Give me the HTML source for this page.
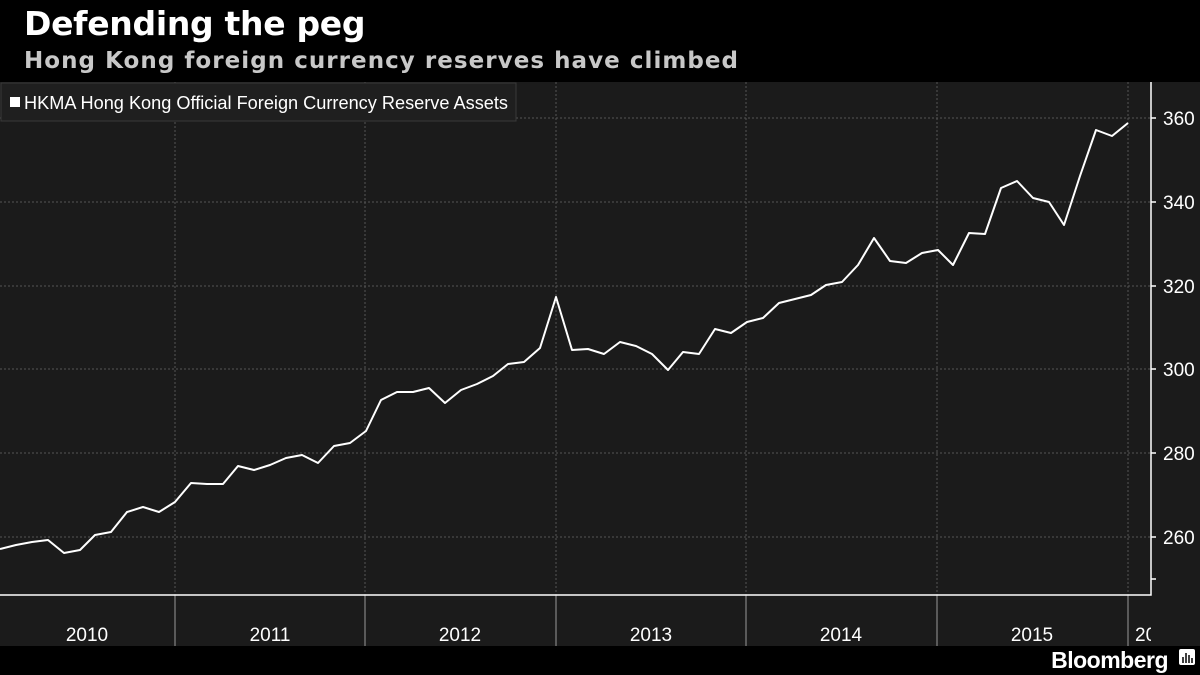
<!DOCTYPE html>
<html><head><meta charset="utf-8"><style>
body{margin:0;background:#000;width:1200px;height:675px;overflow:hidden;font-family:"Liberation Sans",sans-serif}
</style></head><body>
<svg width="1200" height="675" xmlns="http://www.w3.org/2000/svg" style="position:absolute;left:0;top:0">
<rect width="1200" height="675" fill="#000"/>
<text x="24" y="35" fill="#fff" font-size="33" font-weight="bold" font-family="DejaVu Sans, sans-serif" letter-spacing="-0.3">Defending the peg</text>
<text x="24" y="68" fill="#c8c8c8" font-size="23" font-weight="bold" font-family="DejaVu Sans, sans-serif" textLength="714" lengthAdjust="spacing">Hong Kong foreign currency reserves have climbed</text>
<rect x="0" y="82" width="1200" height="564" fill="#1b1b1b"/>
<g stroke="#555" stroke-dasharray="2,2" stroke-width="1">
<line x1="0" x2="1151" y1="118" y2="118"/><line x1="0" x2="1151" y1="202" y2="202"/>
<line x1="0" x2="1151" y1="286" y2="286"/><line x1="0" x2="1151" y1="369" y2="369"/>
<line x1="0" x2="1151" y1="453" y2="453"/><line x1="0" x2="1151" y1="537" y2="537"/>
<line x1="175" x2="175" y1="82" y2="595"/><line x1="365" x2="365" y1="82" y2="595"/>
<line x1="556" x2="556" y1="82" y2="595"/><line x1="746" x2="746" y1="82" y2="595"/>
<line x1="937" x2="937" y1="82" y2="595"/><line x1="1128" x2="1128" y1="82" y2="595"/>
</g>
<g stroke="#999" stroke-width="1">
<line x1="175" x2="175" y1="595" y2="646"/><line x1="365" x2="365" y1="595" y2="646"/>
<line x1="556" x2="556" y1="595" y2="646"/><line x1="746" x2="746" y1="595" y2="646"/>
<line x1="937" x2="937" y1="595" y2="646"/><line x1="1128" x2="1128" y1="595" y2="646"/>
</g>
<g stroke="#fff" stroke-width="1.5" fill="none">
<polyline points="0,595 1151,595 1151,82"/>
<line x1="1151" x2="1156" y1="118" y2="118"/><line x1="1151" x2="1156" y1="202" y2="202"/>
<line x1="1151" x2="1156" y1="286" y2="286"/><line x1="1151" x2="1156" y1="369" y2="369"/>
<line x1="1151" x2="1156" y1="453" y2="453"/><line x1="1151" x2="1156" y1="537" y2="537"/>
<line x1="1151" x2="1156" y1="579" y2="579"/>
</g>
<g fill="#fff" font-size="19">
<text x="1163" y="125">360</text><text x="1163" y="209">340</text><text x="1163" y="293">320</text>
<text x="1163" y="376">300</text><text x="1163" y="460">280</text><text x="1163" y="544">260</text>
</g>
<g fill="#fff" font-size="19" text-anchor="middle">
<text x="87" y="641">2010</text><text x="270" y="641">2011</text><text x="460" y="641">2012</text>
<text x="651" y="641">2013</text><text x="841" y="641">2014</text><text x="1032" y="641">2015</text>
</g>
<text x="1135" y="641" fill="#fff" font-size="19">20</text>
<rect x="1151" y="600" width="49" height="46" fill="#1b1b1b"/>
<polyline fill="none" stroke="#fff" stroke-width="2" stroke-linejoin="round" points="0,549 16,545 32,542 48,540 64,553 80,550 95,535 111,532 127,512 143,507 159,512 175,502 191,483 207,484 223,484 238,466 254,470 270,465 286,458 302,455 318,463 334,446 350,443 366,431 381,400 397,392 413,392 429,388 445,403 461,390 477,384 493,376 508,364 524,362 540,348 556,297 572,350 588,349 604,354 620,342 636,346 652,354 668,370 683,352 699,354 715,329 731,333 747,322 763,318 779,303 795,299 811,295 826,285 842,282 858,265 874,238 890,261 906,263 922,253 938,250 953,265 969,233 985,234 1001,188 1017,181 1033,198 1049,202 1064,225 1080,176 1096,130 1112,136 1128,123"/>
<rect x="1" y="83" width="515" height="38" fill="#1f1f1f" stroke="#3a3a3a"/>
<rect x="10" y="97" width="10" height="10" fill="#fff"/>
<text x="24" y="109" fill="#fff" font-size="18" textLength="484" lengthAdjust="spacingAndGlyphs">HKMA Hong Kong Official Foreign Currency Reserve Assets</text>
<text x="1168" y="668" fill="#fff" font-size="23" font-weight="bold" text-anchor="end" letter-spacing="-0.5">Bloomberg</text>
<rect x="1179" y="649" width="16" height="16" rx="2" fill="#fff"/>
<g stroke="#000" stroke-width="1.5"><line x1="1183" x2="1183" y1="657" y2="663"/><line x1="1186" x2="1186" y1="653" y2="663"/><line x1="1189" x2="1189" y1="655" y2="663"/><line x1="1192" x2="1192" y1="658" y2="663"/></g>
</svg>
</body></html>
